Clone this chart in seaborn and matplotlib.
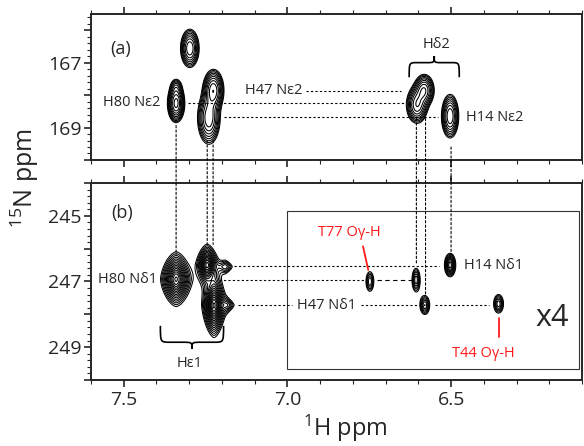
import numpy as np
import pandas as pd
import matplotlib
matplotlib.use("Agg")
import matplotlib.pyplot as plt
import seaborn as sns
from matplotlib.patches import ConnectionPatch, Rectangle, PathPatch
from matplotlib.path import Path
from matplotlib.ticker import MultipleLocator, FuncFormatter

# panel (a): 15N epsilon2 region, peak centres (1H, 15N ppm), widths, heights
a_h = [7.298, 7.340, 7.340, 7.226, 7.240, 6.582, 6.604, 6.503]
a_n = [166.56, 168.25, 167.75, 167.85, 168.70, 167.85, 168.30, 168.65]
a_wh = [0.014, 0.012, 0.010, 0.015, 0.017, 0.015, 0.016, 0.013]
a_wn = [0.29, 0.27, 0.15, 0.30, 0.40, 0.24, 0.28, 0.33]
a_amp = [8, 12, 2.5, 10, 8, 8, 8, 8]

# panel (b): 15N delta1 region (last five peaks are the x4 inset)
b_h = [7.340, 7.245, 7.224, 7.190, 7.185, 6.748, 6.607, 6.580, 6.503, 6.355]
b_n = [246.93, 246.50, 247.73, 246.55, 247.72, 247.00, 246.95, 247.72, 246.50, 247.68]
b_wh = [0.024, 0.017, 0.017, 0.026, 0.026, 0.014, 0.013, 0.015, 0.0135, 0.016]
b_wn = [0.42, 0.33, 0.46, 0.22, 0.22, 0.35, 0.37, 0.29, 0.28, 0.30]
b_amp = [24, 20, 30, 2.5, 2.5, 3.0, 3.6, 3.8, 7, 3.6]
b_shape = [1.6, 1.6, 1.6, 1.4, 1.4, 2, 2, 2, 2, 2]

# dashed guide lines
guide_panel = ['a', 'a', 'a', 'b', 'b', 'b', 'b', 'b']
guide_y = [167.86, 168.23, 168.68, 246.53, 246.95, 247.73, 247.73, 247.73]
guide_x0 = [6.944, 7.305, 7.195, 7.164, 7.210, 7.152, 6.775, 6.550]
guide_x1 = [6.652, 6.643, 6.540, 6.537, 6.760, 6.985, 6.597, 6.385]
vert_x = [7.340, 7.245, 7.227, 6.606, 6.578, 6.500]
vert_ya = [168.94, 169.40, 169.40, 168.72, 168.72, 169.60]
vert_yb = [246.18, 245.87, 245.87, 246.49, 247.41, 246.18]

labels_a = ['(a)', 'H80 N\u03b52', 'H47 N\u03b52', 'H\u03b42', 'H14 N\u03b52']
labels_a_x = [7.51, 7.388, 6.955, 6.545, 6.455]
labels_a_y = [166.57, 168.23, 167.86, 166.45, 168.68]
labels_a_ha = ['center', 'right', 'right', 'center', 'left']

labels_b = ['(b)', 'H80 N\u03b41', 'H\u03b51', 'H14 N\u03b41', 'H47 N\u03b41']
labels_b_x = [7.505, 7.398, 7.300, 6.462, 6.879]
labels_b_y = [244.92, 246.95, 249.50, 246.52, 247.73]
labels_b_ha = ['center', 'right', 'center', 'left', 'center']

red_labels = ['T77 O\u03b3-H', 'T44 O\u03b3-H']
red_x = [6.812, 6.400]
red_y = [245.50, 249.20]
red_line_x = [[6.769, 6.753], [6.355, 6.355]]
red_line_y = [[245.93, 246.65], [248.12, 248.70]]

sns.set_style("ticks")
plt.rcParams['font.family'] = ['Open Sans', 'DejaVu Sans']
plt.rcParams['mathtext.default'] = 'regular'


def surface_gauss(X, Y, hs, ns, whs, wns, amps):
    Z = np.zeros_like(X)
    for h, n, wh, wn, a in zip(hs, ns, whs, wns, amps):
        Z += a * np.exp(-0.5 * ((X - h) / wh) ** 2 - 0.5 * ((Y - n) / wn) ** 2)
    return Z


def surface_lorentz(X, Y, hs, ns, whs, wns, amps, qs):
    # squared lorentzian on a super-ellipse distance (diamond-ish contours)
    Z = np.zeros_like(X)
    for h, n, wh, wn, a, q in zip(hs, ns, whs, wns, amps, qs):
        r = (np.abs((X - h) / wh) ** q + np.abs((Y - n) / wn) ** q) ** (2.0 / q)
        Z += a / (1 + r) ** 2
    return Z


def brace(ax, x0, x1, ye, yb, yt, lw=1.2):
    d = 0.15 * (x1 - x0)
    xm = 0.5 * (x0 + x1)
    verts = [(x0, ye), (x0, yb), (x0, yb), (x0 + d, yb),
             (xm - d, yb),
             (xm, yb), (xm, yb), (xm, yt),
             (xm, yb), (xm, yb), (xm + d, yb),
             (x1 - d, yb),
             (x1, yb), (x1, yb), (x1, ye)]
    codes = [Path.MOVETO, Path.CURVE4, Path.CURVE4, Path.CURVE4,
             Path.LINETO,
             Path.CURVE4, Path.CURVE4, Path.CURVE4,
             Path.CURVE4, Path.CURVE4, Path.CURVE4,
             Path.LINETO,
             Path.CURVE4, Path.CURVE4, Path.CURVE4]
    ax.add_patch(PathPatch(Path(verts, codes), fc='none', ec='black', lw=lw))


def style_axis(ax, ylim, labelx):
    ax.set_xlim(7.6, 6.1)
    ax.set_ylim(ylim[1], ylim[0])
    ax.xaxis.set_major_locator(MultipleLocator(0.5))
    ax.xaxis.set_minor_locator(MultipleLocator(0.1))
    ax.yaxis.set_major_locator(MultipleLocator(1))
    ax.yaxis.set_minor_locator(MultipleLocator(0.2))
    ax.yaxis.set_major_formatter(FuncFormatter(lambda v, p: '%d' % v if int(round(v)) % 2 == 1 else ''))
    ax.xaxis.set_major_formatter(FuncFormatter(lambda v, p: '%.1f' % v))
    ax.tick_params(axis='x', which='both', top=True, bottom=True, direction='out',
                   labelbottom=labelx, labelsize=14, pad=3)
    ax.tick_params(axis='y', which='both', left=True, right=False, direction='out',
                   labelsize=14, pad=2)
    ax.tick_params(which='major', length=5, width=1.2)
    ax.tick_params(which='minor', length=3, width=0.8)
    for s in ax.spines.values():
        s.set_linewidth(1.4)
        s.set_visible(True)
    ax.set_xlabel('')
    ax.set_ylabel('')


fig = plt.figure(figsize=(5.84, 4.46), dpi=100)
ax_a = fig.add_axes([0.1558, 0.6413, 0.8408, 0.3274])
ax_b = fig.add_axes([0.1558, 0.1480, 0.8408, 0.4417])

xg = np.linspace(7.6, 6.1, 1000)
ya = np.linspace(165.5, 170.0, 500)
yb = np.linspace(244.0, 250.0, 700)

Xa, Ya = np.meshgrid(xg, ya)
Za = surface_gauss(Xa, Ya, a_h, a_n, a_wh, a_wn, a_amp)
ax_a.contour(Xa, Ya, Za, levels=1.3 ** np.arange(0, 12), colors='black', linewidths=0.75)

Xb, Yb = np.meshgrid(xg, yb)
Zb = surface_lorentz(Xb, Yb, b_h, b_n, b_wh, b_wn, b_amp, b_shape)
ax_b.contour(Xb, Yb, Zb, levels=1.25 ** np.arange(0, 16), colors='black', linewidths=0.75)

style_axis(ax_a, (165.5, 170.0), False)
style_axis(ax_b, (244.0, 250.0), True)

# horizontal guides
guides = pd.DataFrame({
    'panel': np.repeat(guide_panel, 2),
    'seg': np.repeat(np.arange(len(guide_y)), 2),
    'x': np.ravel(np.column_stack([guide_x0, guide_x1])),
    'y': np.repeat(guide_y, 2),
})
for ax, p in [(ax_a, 'a'), (ax_b, 'b')]:
    sns.lineplot(data=guides[guides.panel == p], x='x', y='y', units='seg',
                 estimator=None, sort=False, color='black', lw=0.8,
                 linestyle=(0, (2, 2)), ax=ax, legend=False)
    ax.set_xlabel('')
    ax.set_ylabel('')
ax_b.plot([6.725, 6.620], [246.95, 246.95], color='black', lw=0.8, linestyle=(0, (4, 3)))

# vertical guides across the two panels
for x, y1, y2 in zip(vert_x, vert_ya, vert_yb):
    con = ConnectionPatch(xyA=(x, y1), coordsA=ax_a.transData,
                          xyB=(x, y2), coordsB=ax_b.transData,
                          color='black', lw=0.8, linestyle=(0, (2, 2)))
    fig.add_artist(con)

for t, x, y, ha in zip(labels_a, labels_a_x, labels_a_y, labels_a_ha):
    ax_a.text(x, y, t, ha=ha, va='center', fontsize=13 if t == '(a)' else 10.5)
for t, x, y, ha in zip(labels_b, labels_b_x, labels_b_y, labels_b_ha):
    ax_b.text(x, y, t, ha=ha, va='center', fontsize=13 if t == '(b)' else 10.5,
              bbox=dict(fc='white', ec='none', pad=0.5) if t.startswith('H47') else None)
for t, x, y, lx, ly in zip(red_labels, red_x, red_y, red_line_x, red_line_y):
    ax_b.text(x, y, t, ha='center', va='center', fontsize=10.5, color='#ff1a1a')
    ax_b.plot(lx, ly, color='#ff1a1a', lw=1.3)

ax_b.text(6.19, 248.12, 'x4', ha='center', va='center', fontsize=22)
ax_b.add_patch(Rectangle((7.0, 244.86), 6.11 - 7.0, 249.66 - 244.86,
                         fill=False, ec='#333333', lw=0.8))

brace(ax_a, 6.628, 6.475, 167.45, 167.0, 166.8)
brace(ax_b, 7.388, 7.195, 248.35, 248.85, 249.05)

fig.text(25 / 584, 1 - 178 / 446, '$^{15}$N ppm', rotation=90, ha='center', va='center', fontsize=18)
fig.text(345 / 584, 1 - 428 / 446, '$^{1}$H ppm', ha='center', va='center', fontsize=17)

fig.savefig('out.png', dpi=100)
